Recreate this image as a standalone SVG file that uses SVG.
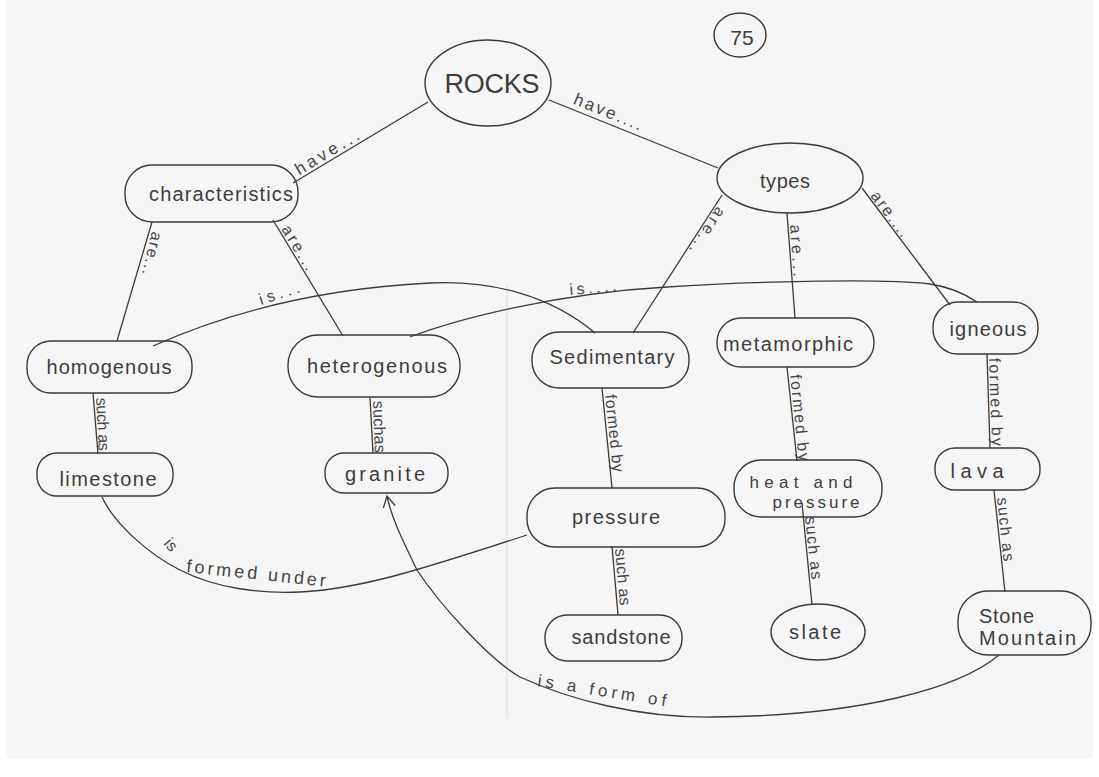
<svg xmlns="http://www.w3.org/2000/svg" width="1099" height="777" viewBox="0 0 1099 777">
<defs>
<style>
.n{fill:none;stroke:#3a3a3a;stroke-width:1.4}
.c{fill:none;stroke:#3a3a3a;stroke-width:1.3}
.t{font-family:"Liberation Sans",Arial,sans-serif;font-size:20px;fill:#3d3d3d;text-anchor:middle}
.s{font-family:"Liberation Sans",Arial,sans-serif;font-size:20px;fill:#3d3d3d}
.l{font-family:"Liberation Sans",Arial,sans-serif;font-size:16px;fill:#454545}
.lm{font-family:"Liberation Sans",Arial,sans-serif;font-size:17px;fill:#454545;text-anchor:middle}
</style>
<marker id="arr" viewBox="0 0 14 14" refX="12" refY="7" markerWidth="14" markerHeight="14" markerUnits="userSpaceOnUse" orient="auto">
<path d="M1,1 L12,7 L1,13" fill="none" stroke="#3a3a3a" stroke-width="1.3"/>
</marker>
</defs>
<rect width="1099" height="777" fill="#ffffff"/>
<rect x="6" y="0" width="1087" height="758" fill="#f6f6f6"/>
<line x1="507" y1="285" x2="507" y2="718" stroke="#dedede" stroke-width="1"/>

<g id="connectors">
<line class="c" x1="428" y1="102" x2="293" y2="183"/>
<line class="c" x1="549" y1="100" x2="718" y2="168"/>
<line class="c" x1="152" y1="222" x2="117" y2="341"/>
<line class="c" x1="273" y1="220" x2="343" y2="336"/>
<line class="c" x1="722" y1="195" x2="633" y2="333"/>
<line class="c" x1="787" y1="213" x2="795" y2="318"/>
<line class="c" x1="862" y1="188" x2="950" y2="305"/>
<line class="c" x1="93" y1="393" x2="98" y2="454"/>
<line class="c" x1="370" y1="398" x2="373" y2="453"/>
<line class="c" x1="602" y1="388" x2="612" y2="488"/>
<line class="c" x1="787" y1="367" x2="797" y2="461"/>
<line class="c" x1="987" y1="354" x2="990" y2="448"/>
<line class="c" x1="612" y1="546" x2="618" y2="615"/>
<line class="c" x1="802" y1="503" x2="812" y2="605"/>
<line class="c" x1="994" y1="490" x2="1005" y2="592"/>
<path class="c" d="M153,346 C200,325 290,290 430,283 C490,280 550,295 595,333"/>
<path class="c" d="M410,337 C460,318 560,293 667,287 C740,282 880,278 930,284 C950,287 965,294 977,302"/>
<path class="c" d="M102,497 C115,525 150,555 180,570 C215,588 260,594 300,592 C360,589 420,570 527,535"/>
<path class="c" marker-end="url(#arr)" d="M999,655 C960,688 860,716 712,717 C640,718 570,700 520,677 C490,660 440,605 417,570 C405,545 392,520 387,496"/>

<text class="lm" transform="translate(330,157) rotate(-31)" textLength="72">have...</text>
<text class="lm" transform="translate(606,117) rotate(22)" textLength="72">have....</text>
<text class="l" transform="translate(152,231) rotate(103)" textLength="44">are...</text>
<text class="l" transform="translate(281,229) rotate(59)" textLength="50">are...</text>
<text class="l" transform="translate(717,206) rotate(123)" textLength="52">are...</text>
<text class="l" transform="translate(790,225) rotate(86)" textLength="52">are...</text>
<text class="l" transform="translate(870,196) rotate(53)" textLength="53">are....</text>
<text class="l" transform="translate(261,305) rotate(-18)" textLength="42">is...</text>
<text class="l" transform="translate(570,295) rotate(-5)" textLength="47">is....</text>
<text class="l" transform="translate(96,398) rotate(87)" textLength="53">such as</text>
<text class="l" transform="translate(373,401) rotate(88)" textLength="52">suchas</text>
<text class="l" transform="translate(605,395) rotate(84)" textLength="78">formed by</text>
<text class="l" transform="translate(790,375) rotate(84)" textLength="87">formed by</text>
<text class="l" transform="translate(989,358) rotate(88)" textLength="88">formed by</text>
<text class="l" transform="translate(615,549) rotate(85)" textLength="57">such as</text>
<text class="l" transform="translate(805,517) rotate(84)" textLength="63">such as</text>
<text class="l" transform="translate(997,498) rotate(84)" textLength="64">such as</text>
<text class="l" transform="translate(163,544) rotate(48)">is</text>
<text class="l" style="font-size:18px" transform="translate(186,572) rotate(6)" textLength="140">formed under</text>
<text class="l" style="font-size:17px" transform="translate(537,686) rotate(9)" textLength="130">is a form of</text>
</g>

<g id="page-number">
<ellipse class="n" cx="740" cy="35" rx="26" ry="22"/>
<text class="t" x="742" y="45" style="font-size:21px">75</text>
</g>
<g id="rocks">
<ellipse class="n" cx="488" cy="83" rx="63" ry="43"/>
<text class="t" x="492" y="93" style="font-size:27px" textLength="95">ROCKS</text>
</g>
<g id="characteristics">
<rect class="n" x="125" y="165" width="173" height="57" rx="27"/>
<text class="t" x="221" y="201" textLength="144">characteristics</text>
</g>
<g id="types">
<ellipse class="n" cx="790" cy="178" rx="73" ry="35"/>
<text class="t" x="785" y="188" textLength="50">types</text>
</g>
<g id="homogenous">
<rect class="n" x="27" y="341" width="165" height="52" rx="24"/>
<text class="t" x="109" y="374" textLength="125">homogenous</text>
</g>
<g id="heterogenous">
<rect class="n" x="288" y="335" width="172" height="62" rx="30"/>
<text class="t" x="377" y="373" textLength="140">heterogenous</text>
</g>
<g id="sedimentary">
<rect class="n" x="532" y="332" width="157" height="56" rx="27"/>
<text class="t" x="612" y="364" textLength="125">Sedimentary</text>
</g>
<g id="metamorphic">
<rect class="n" x="717" y="318" width="157" height="49" rx="24"/>
<text class="t" x="788" y="351" textLength="130">metamorphic</text>
</g>
<g id="igneous">
<rect class="n" x="933" y="302" width="105" height="52" rx="25"/>
<text class="t" x="988" y="336" textLength="77">igneous</text>
</g>
<g id="limestone">
<rect class="n" x="37" y="453" width="136" height="43" rx="20"/>
<text class="t" x="108" y="486" textLength="97">limestone</text>
</g>
<g id="granite">
<rect class="n" x="325" y="453" width="123" height="40" rx="19"/>
<text class="t" x="385" y="481" textLength="80">granite</text>
</g>
<g id="pressure">
<rect class="n" x="527" y="488" width="198" height="59" rx="28"/>
<text class="t" x="616" y="524" textLength="88">pressure</text>
</g>
<g id="heat-and-pressure">
<rect class="n" x="734" y="460" width="148" height="57" rx="27"/>
<text class="t" x="801" y="488" style="font-size:17px" textLength="103">heat and</text>
<text class="t" x="816" y="508" style="font-size:17px" textLength="87">pressure</text>
</g>
<g id="lava">
<rect class="n" x="935" y="448" width="105" height="42" rx="20"/>
<text class="t" x="977" y="478" textLength="53">lava</text>
</g>
<g id="sandstone">
<rect class="n" x="545" y="615" width="137" height="46" rx="22"/>
<text class="t" x="621" y="644" textLength="99">sandstone</text>
</g>
<g id="slate">
<ellipse class="n" cx="818" cy="632" rx="47" ry="28"/>
<text class="t" x="815" y="639" textLength="52">slate</text>
</g>
<g id="stone-mountain">
<rect class="n" x="958" y="591" width="133" height="64" rx="30"/>
<text class="s" x="979" y="623" textLength="55">Stone</text>
<text class="s" x="979" y="645" textLength="97">Mountain</text>
</g>
</svg>
